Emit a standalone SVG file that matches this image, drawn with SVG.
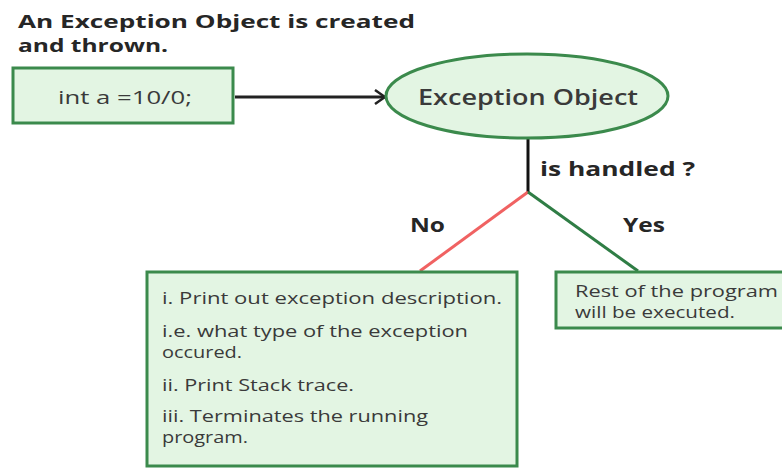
<svg xmlns="http://www.w3.org/2000/svg" width="782" height="468" viewBox="0 0 782 468">
<defs>
<style>
.node{fill:#e3f5e3;stroke:#3b8a4c;stroke-width:3}
.t{font-family:"Open Sans","Liberation Sans",sans-serif;fill:#3a3a3a}
.b{font-weight:600}
.h{font-weight:700;fill:#262626}
</style>
<marker id="arr" viewBox="0 0 12 16" refX="11" refY="8" markerWidth="12" markerHeight="16" markerUnits="userSpaceOnUse" orient="auto">
<path d="M1,1 L11,8 L1,15" fill="none" stroke="#222" stroke-width="2.5"/>
</marker>
</defs>
<rect width="782" height="468" fill="#ffffff"/>
<g id="title">
<text class="t h" x="18" y="28" font-size="18" textLength="397" lengthAdjust="spacingAndGlyphs">An Exception Object is created</text>
<text class="t h" x="18" y="52" font-size="18" textLength="150" lengthAdjust="spacingAndGlyphs">and thrown.</text>
</g>
<g id="connectors" fill="none">
<line x1="235" y1="97" x2="385" y2="97" stroke="#222" stroke-width="3" marker-end="url(#arr)"/>
<line x1="528" y1="139" x2="528" y2="193" stroke="#111" stroke-width="3"/>
<line x1="528" y1="192" x2="420" y2="271" stroke="#f06262" stroke-width="3"/>
<line x1="528" y1="192" x2="638" y2="271" stroke="#2f7d45" stroke-width="3"/>
</g>
<g id="code">
<rect class="node" x="13" y="68" width="220" height="55"/>
<text class="t" x="58" y="104" font-size="19" textLength="134" lengthAdjust="spacingAndGlyphs">int a =10/0;</text>
</g>
<g id="exception">
<ellipse class="node" cx="527" cy="96" rx="141" ry="42"/>
<text class="t b" x="418" y="105" font-size="22" textLength="220" lengthAdjust="spacingAndGlyphs">Exception Object</text>
</g>
<g id="labels">
<text class="t h" x="540" y="176" font-size="19" textLength="155" lengthAdjust="spacingAndGlyphs">is handled ?</text>
<text class="t h" x="410" y="232" font-size="19" textLength="35" lengthAdjust="spacingAndGlyphs">No</text>
<text class="t h" x="623" y="232" font-size="19" textLength="42" lengthAdjust="spacingAndGlyphs">Yes</text>
</g>
<g id="no-box">
<rect class="node" x="147" y="272" width="370" height="194"/>
<text class="t" x="162" y="304" font-size="16" textLength="340" lengthAdjust="spacingAndGlyphs">i. Print out exception description.</text>
<text class="t" x="162" y="337" font-size="16" textLength="306" lengthAdjust="spacingAndGlyphs">i.e. what type of the exception</text>
<text class="t" x="162" y="358" font-size="16" textLength="80" lengthAdjust="spacingAndGlyphs">occured.</text>
<text class="t" x="162" y="391" font-size="16" textLength="192" lengthAdjust="spacingAndGlyphs">ii. Print Stack trace.</text>
<text class="t" x="162" y="422" font-size="16" textLength="266" lengthAdjust="spacingAndGlyphs">iii. Terminates the running</text>
<text class="t" x="162" y="443" font-size="16" textLength="86" lengthAdjust="spacingAndGlyphs">program.</text>
</g>
<g id="yes-box">
<rect class="node" x="556" y="272" width="240" height="56"/>
<text class="t" x="575" y="297" font-size="16" textLength="203" lengthAdjust="spacingAndGlyphs">Rest of the program</text>
<text class="t" x="575" y="318" font-size="16" textLength="160" lengthAdjust="spacingAndGlyphs">will be executed.</text>
</g>
</svg>
